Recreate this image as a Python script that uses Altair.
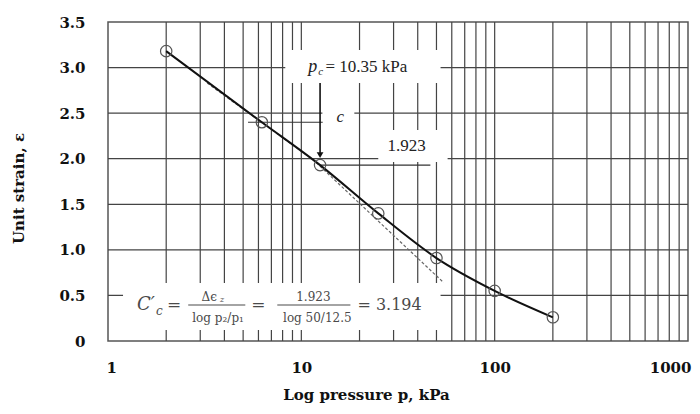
import altair as alt
import pandas as pd

# ---- data ----
pressure = [2, 6.25, 12.5, 25, 50, 100, 200]          # kPa
strain = [3.18, 2.40, 1.93, 1.40, 0.91, 0.55, 0.26]   # unit strain

tangent_p = [3.26, 11.5, 54.5]
tangent_e = [2.83, 1.99, 0.64]

x_ticks = [1, 10, 100, 1000]
y_ticks = [0, 0.5, 1.0, 1.5, 2.0, 2.5, 3.0, 3.5]
v_grid = [2, 3, 4, 5, 6, 7, 8, 9, 10, 20, 30, 40, 50, 60, 70, 80, 90,
          100, 200, 300, 400, 500, 600, 700, 800, 900]
h_grid = [0.5, 1.0, 1.5, 2.0, 2.5, 3.0]

# label background boxes (data coords)
mask_p1 = [8.26, 12.85, 25.0, 1.196]
mask_p2 = [52.5, 18.8, 57.1, 52.5]
mask_e1 = [2.831, 2.315, 1.964, 0.121]
mask_e2 = [3.193, 2.611, 2.315, 0.636]

# construction lines
hline_p1 = [5.3, 12.5]
hline_p2 = [12.9, 46.5]
hline_e = [2.40, 1.93]

pc_value = 12.5
arrow_top = 2.83
arrow_tip = 2.04

# fraction bars
bar_p1 = [2.60, 7.51]
bar_p2 = [5.13, 17.94]
bar_e = [0.395, 0.395]

SERIF = "Liberation Serif"
MATH = "DejaVu Serif"
GRID = "#444444"
FCOL = "#4a4a4a"

xs = alt.Scale(type="log", domain=[1, 1000], nice=False)
ys = alt.Scale(domain=[0, 3.5], nice=False, zero=False)

X_TITLE = "Log pressure p, kPa"
Y_TITLE = "Unit strain, ε"
X_AXIS = alt.Axis(values=x_ticks, grid=False, ticks=False, domain=False,
                  labelFlush=True, labelPadding=19,
                  labelExpr="format(datum.value, 'd')",
                  labelOffset={"condition": [
                      {"test": "datum.value == 1000", "value": 3},
                      {"test": "datum.value == 1", "value": -2}],
                      "value": 0},
                  titleX=258, titleY=46, titleBaseline="top")
Y_AXIS = alt.Axis(values=y_ticks, grid=False, ticks=False, domain=False,
                  labelPadding=23,
                  labelExpr="datum.value == 0 ? '0' : format(datum.value, '.1f')",
                  titleX=-90, titleY=166, titleBaseline="middle")


def X(field="p"):
    return alt.X(f"{field}:Q", scale=xs, axis=X_AXIS, title=X_TITLE)


def Y(field="e"):
    return alt.Y(f"{field}:Q", scale=ys, axis=Y_AXIS, title=Y_TITLE)


vgrid = alt.Chart(pd.DataFrame({"p": v_grid})).mark_rule(color=GRID, strokeWidth=1.2).encode(x=X())
hgrid = alt.Chart(pd.DataFrame({"e": h_grid})).mark_rule(color=GRID, strokeWidth=1.2).encode(y=Y())

masks = alt.Chart(pd.DataFrame({"p1": mask_p1, "p2": mask_p2, "e1": mask_e1, "e2": mask_e2})).mark_rect(
    fill="white").encode(x=X("p1"), x2="p2:Q", y=Y("e1"), y2="e2:Q")

hlines = alt.Chart(pd.DataFrame({"p1": hline_p1, "p2": hline_p2, "e": hline_e})).mark_rule(
    color="#333333", strokeWidth=1.2).encode(x=X("p1"), x2="p2:Q", y=Y())

arrow = alt.Chart(pd.DataFrame({"p": [pc_value], "e1": [arrow_top], "e2": [arrow_tip]})).mark_rule(
    color="#111111", strokeWidth=1.6).encode(x=X(), y=Y("e1"), y2="e2:Q")
arrow_head = alt.Chart(pd.DataFrame({"p": [pc_value], "e": [arrow_tip]})).mark_point(
    shape="triangle-down", filled=True, color="#111111", size=45, opacity=1).encode(x=X(), y=Y())

tangent = alt.Chart(pd.DataFrame({"p": tangent_p, "e": tangent_e})).mark_line(
    color="#666666", strokeWidth=1.2, strokeDash=[3, 2]).encode(x=X(), y=Y())

curve = alt.Chart(pd.DataFrame({"p": pressure, "e": strain})).mark_line(
    color="#111111", strokeWidth=2, interpolate="monotone").encode(x=X(), y=Y())

circles = alt.Chart(pd.DataFrame({"p": pressure, "e": strain})).mark_point(
    shape="circle", filled=False, color="#555555", strokeWidth=1.2, size=130, opacity=1).encode(x=X(), y=Y())

bars = alt.Chart(pd.DataFrame({"p1": bar_p1, "p2": bar_p2, "e": bar_e})).mark_rule(
    color=FCOL, strokeWidth=1.2).encode(x=X("p1"), x2="p2:Q", y=Y())


def txt(p, e, s, font=SERIF, size=17, style="normal", align="left", color="#222222", weight="normal"):
    return alt.Chart(pd.DataFrame({"p": [p], "e": [e], "t": [s]})).mark_text(
        font=font, fontSize=size, fontStyle=style, align=align, baseline="middle",
        color=color, fontWeight=weight).encode(x=X(), y=Y(), text="t:N")


texts = [
    txt(10.87, 3.006, "p", size=18, style="italic"),
    txt(12.25, 2.95, "c", size=11, style="italic"),
    txt(13.32, 3.006, "= 10.35 kPa"),
    txt(15.2, 2.458, "c", style="italic"),
    txt(35.0, 2.14, "1.923", align="center"),
    # formula
    txt(1.413, 0.395, "C′", font=MATH, size=18, style="italic", color=FCOL),
    txt(1.773, 0.329, "c", font=MATH, size=12, style="italic", color=FCOL),
    txt(2.198, 0.395, "=", font=MATH, size=17, align="center", color=FCOL),
    txt(3.34, 0.483, "Δϵ", font=MATH, size=12, align="center", color=FCOL),
    txt(3.80, 0.45, "z", font=MATH, size=8, style="italic", color=FCOL),
    txt(3.71, 0.252, "log p₂/p₁", font=MATH, size=12, align="center", color=FCOL),
    txt(5.99, 0.395, "=", font=MATH, size=17, align="center", color=FCOL),
    txt(11.54, 0.483, "1.923", font=MATH, size=12, align="center", color=FCOL),
    txt(12.1, 0.252, "log 50/12.5", font=MATH, size=12, align="center", color=FCOL),
    txt(19.5, 0.395, "= 3.194", font=MATH, size=16, color=FCOL),
]

chart = alt.layer(
    vgrid, hgrid, masks, hlines, tangent, curve, circles, arrow, arrow_head, bars, *texts
).properties(
    width=580, height=319,
    autosize=alt.AutoSizeParams(type="none"),
    padding={"left": 100, "top": 14, "right": 4, "bottom": 65},
).configure_view(
    stroke="#555555", strokeWidth=1.5
).configure_axis(
    labelFont=MATH, labelFontWeight="bold", labelFontSize=15, labelColor="#111111",
    titleFont=MATH, titleFontWeight="bold", titleFontSize=15, titleColor="#111111",
)

chart.save("out.html", embed_options={"renderer": "svg", "actions": False})
